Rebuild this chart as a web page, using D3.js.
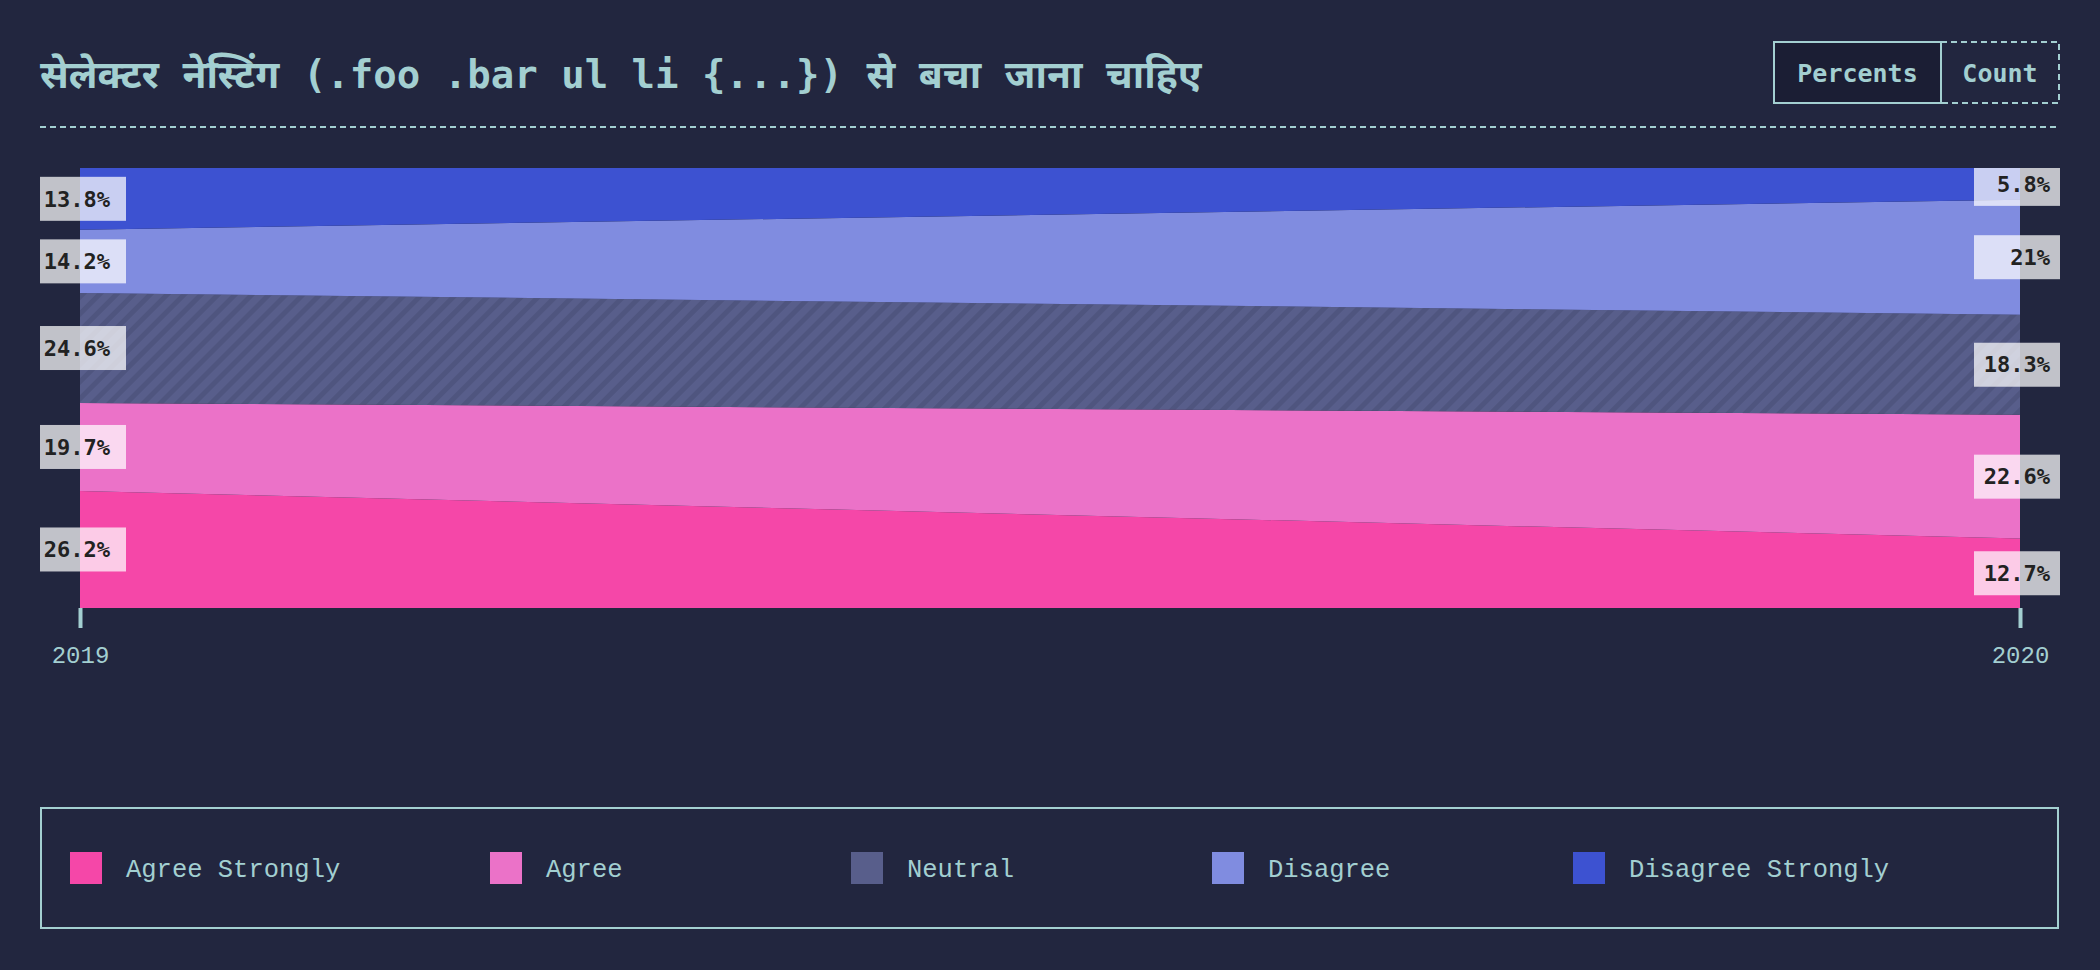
<!DOCTYPE html>
<html>
<head>
<meta charset="utf-8">
<script src="https://cdn.jsdelivr.net/npm/d3@7"></script>
<style>
  html, body { margin: 0; padding: 0; background: #22263f; }
  #chart { width: 2100px; height: 970px; }
</style>
</head>
<body>
<div id="chart"></div>
<script>
const title = "सेलेक्टर नेस्टिंग (.foo .bar ul li {...}) से बचा जाना चाहिए";
const years = ["2019", "2020"];
const keys = ["Agree Strongly", "Agree", "Neutral", "Disagree", "Disagree Strongly"];
const agreeStrongly = [26.2, 12.7];
const agree = [19.7, 22.6];
const neutral = [24.6, 18.3];
const disagree = [14.2, 21];
const disagreeStrongly = [13.8, 5.8];
const colors = ["#f547a8", "#eb72c8", "#585e8b", "#808ce0", "#3d52d1"];
const toggles = ["Percents", "Count"];

const teal = "#a3cfd1";
const bg = "#22263f";

let containerWidth = 2100, containerHeight = 970;
let margin = { top: 168, right: 80, bottom: 362, left: 80 };
let width = containerWidth - margin.left - margin.right;
let height = containerHeight - margin.top - margin.bottom;

let svg = d3.select("#chart").append("svg")
  .attr("width", containerWidth)
  .attr("height", containerHeight)
  .style("background", bg);

let defs = svg.append("defs");
let hatch = defs.append("pattern")
  .attr("id", "hatch")
  .attr("patternUnits", "userSpaceOnUse")
  .attr("width", 12)
  .attr("height", 12)
  .attr("patternTransform", "rotate(45)");
hatch.append("rect").attr("width", 12).attr("height", 12).attr("fill", colors[2]);
hatch.append("rect").attr("width", 5).attr("height", 12).attr("fill", "#4f557f");

defs.append("clipPath").attr("id", "labelClip")
  .append("rect")
  .attr("x", 0).attr("y", margin.top)
  .attr("width", containerWidth).attr("height", containerHeight - margin.top);

/////////////////////////////
// title + toggle
svg.append("text")
  .attr("x", 40)
  .attr("y", 88)
  .attr("fill", teal)
  .attr("font-family", "'DejaVu Sans Mono', 'Noto Sans', monospace")
  .attr("font-weight", "bold")
  .attr("font-size", "39px")
  .text(title);

svg.append("line")
  .attr("x1", 40).attr("x2", 2059)
  .attr("y1", 127).attr("y2", 127)
  .attr("stroke", teal)
  .attr("stroke-width", 2)
  .attr("stroke-dasharray", "6 4");

let toggleX = [1774, 1941, 2059];
let toggleG = svg.append("g");
toggleG.selectAll("rect")
  .data(toggles.slice().reverse())
  .join("rect")
  .attr("x", d => toggleX[toggles.indexOf(d)])
  .attr("y", 42)
  .attr("width", d => toggleX[toggles.indexOf(d) + 1] - toggleX[toggles.indexOf(d)])
  .attr("height", 61)
  .attr("fill", d => d == "Percents" ? "#1b1e34" : "none")
  .attr("stroke", teal)
  .attr("stroke-width", 2)
  .attr("stroke-dasharray", d => d == "Percents" ? null : "6 4");
toggleG.selectAll("text")
  .data(toggles)
  .join("text")
  .attr("x", (d, i) => (toggleX[i] + toggleX[i + 1]) / 2)
  .attr("y", 82)
  .attr("text-anchor", "middle")
  .attr("fill", teal)
  .attr("font-family", "'DejaVu Sans Mono', monospace")
  .attr("font-weight", "bold")
  .attr("font-size", "25px")
  .text(d => d);

/////////////////////////////
let data = years.map((y, i) => ({
  year: y,
  "Agree Strongly": agreeStrongly[i],
  "Agree": agree[i],
  "Neutral": neutral[i],
  "Disagree": disagree[i],
  "Disagree Strongly": disagreeStrongly[i]
}));

let series = d3.stack()
  .keys(keys)
  .offset(d3.stackOffsetExpand)
  (data)
  .map(d => (d.forEach(v => v.key = d.key), d));

let xScale = d3.scalePoint()
  .domain(years)
  .range([margin.left, margin.left + width]);

let yScale = d3.scaleLinear()
  .domain([0, 1])
  .range([margin.top + height, margin.top]);

let color = d3.scaleOrdinal().domain(keys).range(colors);

let area = d3.area()
  .x(d => xScale(d.data.year))
  .y0(d => yScale(d[0]))
  .y1(d => yScale(d[1]));

svg.append("g")
  .selectAll("path")
  .data(series)
  .join("path")
  .attr("fill", d => d.key == "Neutral" ? "url(#hatch)" : color(d.key))
  .attr("d", area);

/////////////////////////////
// x axis
let xAxis = g => g
  .call(d3.axisBottom(xScale).tickSize(20).tickPadding(18).tickSizeOuter(0))
  .call(g => g.select(".domain").remove());

let labelXAxis = svg.append("g")
  .attr("transform", `translate(0, ${margin.top + height})`)
  .call(xAxis);
labelXAxis.selectAll("line").attr("stroke", teal).attr("stroke-width", 4);
labelXAxis.selectAll("text")
  .attr("fill", teal)
  .attr("font-family", "'Liberation Mono', monospace")
  .attr("font-size", "24px");

/////////////////////////////
// value labels at each edge
let valueLabels = svg.append("g")
  .attr("clip-path", "url(#labelClip)")
  .selectAll("g")
  .data(series.flatMap(s => s))
  .join("g")
  .attr("transform", d => {
    let cy = (yScale(d[0]) + yScale(d[1])) / 2;
    return `translate(${xScale(d.data.year)}, ${cy})`;
  });

valueLabels.append("rect")
  .attr("x", d => d.data.year == years[0] ? -40 : -46)
  .attr("y", -22)
  .attr("width", 86)
  .attr("height", 44)
  .attr("fill", "#fff")
  .attr("fill-opacity", 0.72);

valueLabels.append("text")
  .attr("x", 30)
  .attr("dy", "0.35em")
  .attr("text-anchor", "end")
  .attr("fill", "#222")
  .attr("font-family", "'DejaVu Sans Mono', monospace")
  .attr("font-weight", "bold")
  .attr("font-size", "22px")
  .text(d => d.data[d.key] + "%");

/////////////////////////////
// legend
svg.append("rect")
  .attr("x", 41).attr("y", 808)
  .attr("width", 2017).attr("height", 120)
  .attr("fill", "none")
  .attr("stroke", teal)
  .attr("stroke-width", 2);

let legend = svg.append("g")
  .selectAll("g")
  .data(keys)
  .join("g")
  .attr("transform", (d, i) => `translate(${70 + i * 361 + (i > 0 ? 59 : 0)}, 852)`);

legend.append("rect")
  .attr("width", 32)
  .attr("height", 32)
  .attr("fill", d => color(d));

legend.append("text")
  .attr("x", 56)
  .attr("y", 16)
  .attr("dy", "0.35em")
  .attr("fill", teal)
  .attr("font-family", "'Liberation Mono', monospace")
  .attr("font-size", "25.5px")
  .text(d => d);
</script>
</body>
</html>
